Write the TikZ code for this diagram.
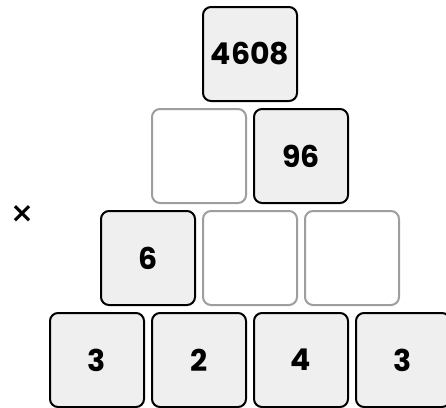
\documentclass[tikz,border=0pt]{standalone}
\usepackage{fontspec}
\setmainfont{Poppins}[BoldFont=* Bold]
\newfontfamily\symfont{DejaVu Sans}[BoldFont=* Bold]
\definecolor{cellfill}{HTML}{EFEFEF}
\definecolor{blankline}{HTML}{9E9E9E}
\tikzset{
  cell/.style={rounded corners=8pt, line width=2pt, minimum width=94pt, minimum height=94pt, inner sep=0pt, font=\fontsize{30}{30}\selectfont\bfseries},
  given/.style={cell, draw=black, fill=cellfill},
  blank/.style={cell, draw=blankline, fill=white},
}
\begin{document}
\begin{tikzpicture}[x=1pt,y=-1pt]
\useasboundingbox (0,0) rectangle (446,407);
\clip (0,0) rectangle (446,407);
\node[given] (t) at (250,54) {4608};
\node[blank] (r2a) at (199,156) {};
\node[given] (r2b) at (301,156) {96};
\node[given] (r3a) at (148,258) {6};
\node[blank] (r3b) at (250,258) {};
\node[blank] (r3c) at (352,258) {};
\node[given] (r4a) at (97,360) {3};
\node[given] (r4b) at (199,360) {2};
\node[given] (r4c) at (301,360) {4};
\node[given] (r4d) at (403,360) {3};
\node[font=\symfont\bfseries\fontsize{28}{28}\selectfont, inner sep=0pt] (op) at (22,214) {×};
\end{tikzpicture}
\end{document}
